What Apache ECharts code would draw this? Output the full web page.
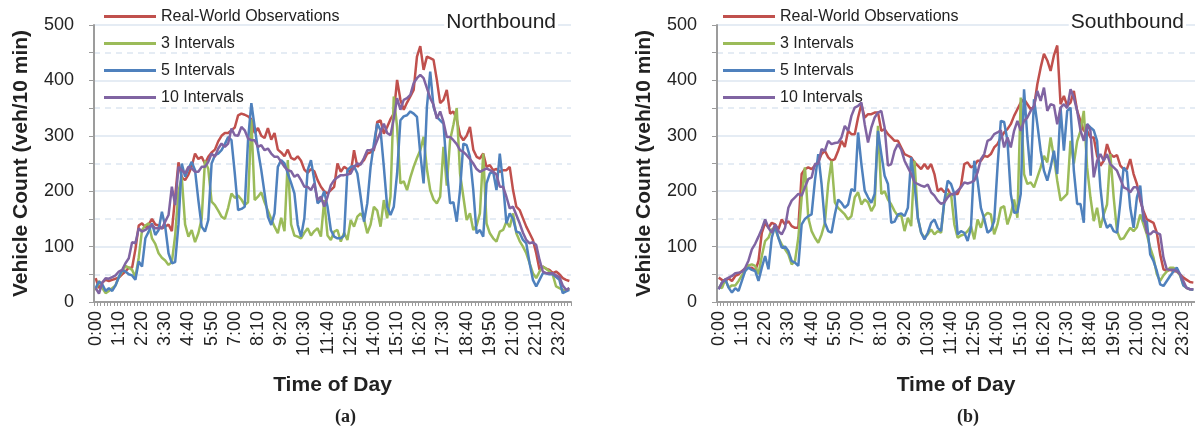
<!DOCTYPE html>
<html>
<head>
<meta charset="utf-8">
<script src="https://cdn.jsdelivr.net/npm/echarts@6/dist/echarts.min.js"></script>
<style>
html,body{margin:0;padding:0;background:#fff;}
#chart{width:1195px;height:431px;}
</style>
</head>
<body>
<div id="chart"></div>
<script>
// ---- DATA ----
const seriesNames = ['Real-World Observations', '3 Intervals', '5 Intervals', '10 Intervals'];
const panelTitles = ['Northbound', 'Southbound'];
const panelCaptions = ['(a)', '(b)'];
const yTicks = [0, 100, 200, 300, 400, 500];

// time-of-day categories, 10-minute steps
const times = [];
for (let i = 0; i < 144; i++) {
  const h = Math.floor(i / 6), m = (i % 6) * 10;
  times.push(h + ':' + (m < 10 ? '0' + m : m));
}

const nbReal = [43,25,35,40,38,40,42,44,50,55,62,62,95,138,142,135,140,150,140,138,
133,136,140,128,190,252,225,220,230,245,268,258,262,250,262,270,275,290,300,305,
305,310,315,337,340,338,335,330,305,314,300,296,314,293,305,275,270,263,275,260,
257,263,255,239,233,240,236,220,208,200,196,202,208,250,235,244,240,232,274,244,
250,256,268,270,274,325,328,304,316,330,340,401,365,347,360,371,383,443,462,419,
443,440,437,401,359,365,383,340,344,330,301,292,300,316,275,262,259,268,244,247,
238,240,235,238,238,244,202,172,166,151,136,124,112,88,58,64,60,58,52,55,
50,43,40,38];

const nb3 = [21,38,25,16,20,25,30,45,55,65,62,58,45,80,130,138,142,115,105,88,
80,75,67,72,120,200,225,140,118,130,108,124,150,255,240,181,175,165,154,150,
170,196,188,192,185,175,180,330,184,190,198,180,165,150,136,124,152,128,256,140,
120,118,115,125,133,120,128,133,118,184,120,112,127,130,109,125,112,148,136,154,
160,150,124,140,172,165,136,184,151,190,371,316,214,218,202,225,244,260,274,298,
240,202,185,178,190,280,210,292,320,350,232,190,148,160,130,138,160,268,142,124,
115,109,127,130,145,135,160,124,110,100,88,70,52,43,55,64,60,55,49,28,
25,22,20,25];

const nb5 = [25,37,32,20,25,20,30,45,58,55,50,48,40,73,64,115,127,142,121,130,
163,136,88,70,72,140,250,226,241,253,238,184,136,127,148,250,265,268,274,285,
298,292,232,166,168,172,292,359,316,274,238,196,154,139,160,244,256,250,232,215,
196,139,118,151,238,256,220,178,184,200,172,130,118,115,115,120,238,244,245,232,
190,145,178,244,286,322,310,244,172,157,172,232,328,335,337,344,340,334,268,214,
352,416,352,334,328,322,238,178,180,145,202,286,283,262,202,124,130,118,214,232,
235,202,268,214,142,160,150,127,125,112,106,70,40,28,40,52,52,50,50,45,
40,16,19,22];

const nb10 = [25,15,35,43,42,45,48,55,58,70,79,108,106,133,127,130,135,139,133,133,
133,145,157,208,175,244,238,232,244,241,235,235,244,244,253,268,262,277,286,280,
286,313,301,300,316,310,295,292,292,280,283,274,277,268,262,262,253,244,238,236,
226,230,220,208,208,202,214,184,190,172,190,211,220,225,229,229,230,232,244,250,
248,260,274,274,277,292,307,322,305,301,331,368,347,365,368,374,395,404,410,404,
386,368,356,331,344,325,298,298,292,285,274,271,265,258,250,240,235,238,241,238,
235,230,208,208,190,169,172,157,142,125,112,106,108,103,76,55,52,52,52,48,
45,30,22,25];

const sbReal = [44,40,38,43,38,47,50,56,60,62,62,56,74,125,143,134,143,140,131,149,
140,146,137,134,134,231,240,243,240,246,252,267,273,261,255,258,273,291,280,309,
303,303,333,357,333,339,339,342,342,309,312,303,297,291,291,279,267,264,261,252,
246,240,249,240,249,231,200,205,198,204,192,195,195,210,249,252,243,246,255,255,
264,262,267,279,285,297,306,312,321,336,348,360,366,357,348,352,393,423,448,436,
417,445,463,357,372,354,360,381,345,327,309,309,297,297,264,246,255,285,267,262,
265,246,240,240,258,231,213,183,164,149,146,143,125,86,59,56,58,56,55,50,
44,40,36,35];

const sb3 = [29,25,41,26,30,30,38,48,56,66,68,65,50,83,110,116,131,134,116,104,
95,86,68,74,116,189,243,152,128,116,107,122,143,213,255,180,170,164,158,149,
155,189,198,176,185,180,164,175,318,195,200,185,176,164,155,157,128,152,137,255,
152,125,116,122,131,122,128,125,183,195,195,140,116,120,122,128,137,113,149,134,
155,161,158,122,140,170,173,140,158,185,152,369,231,213,216,207,225,243,264,252,
297,261,219,183,189,195,291,250,290,309,345,243,189,146,170,134,158,176,267,189,
128,113,115,125,134,128,135,158,140,122,98,80,50,38,48,55,62,62,56,48,
30,25,23,22];

const sb5 = [23,35,41,26,17,25,20,38,56,62,58,56,38,62,83,59,116,137,116,98,
100,92,74,71,65,140,150,155,158,219,267,213,143,128,125,158,185,179,170,176,
204,200,306,249,201,189,179,195,309,267,228,213,143,145,158,160,155,170,261,213,
152,125,113,125,143,149,134,128,183,219,213,195,122,128,125,110,134,255,219,170,
150,125,130,146,243,327,325,291,195,161,162,195,384,297,228,366,321,273,237,219,
243,273,231,351,273,345,351,237,177,177,143,321,315,310,291,207,152,134,140,128,
125,180,243,235,170,134,189,210,146,145,86,74,56,32,29,38,47,55,62,50,
30,26,23,22];

const sb10 = [23,35,41,44,47,52,53,54,62,75,95,105,118,132,149,134,125,140,128,122,
134,170,183,189,195,192,207,222,225,249,250,276,273,291,285,287,288,297,318,309,
336,351,354,360,321,288,315,333,342,345,315,246,249,273,285,275,255,243,231,216,
213,210,208,212,198,192,183,177,180,189,195,195,201,207,216,214,216,219,234,258,
267,291,294,303,306,310,279,297,279,309,327,309,327,333,345,354,381,363,387,345,
357,355,321,351,357,350,384,369,345,310,291,321,309,225,255,267,255,267,249,243,
237,222,207,204,198,207,207,189,158,125,122,128,125,122,80,59,58,58,56,50,
38,25,23,23];

const panels = [
  [nbReal, nb3, nb5, nb10],
  [sbReal, sb3, sb5, sb10]
];

// ---- STYLE ----
const colors = ['#C0504D', '#9BBB59', '#4F81BD', '#8064A2'];
const FONT = '"Liberation Sans", Arial, Helvetica, sans-serif';
const TXT = '#222222';
const AXIS = '#9c9c9c';
const GRIDC = '#dde6f1';

const gridPos = [
  {left: 94, top: 25, width: 477, height: 277},
  {left: 717, top: 25, width: 478, height: 277}
];

const chart = echarts.init(document.getElementById('chart'), null, {renderer: 'canvas'});

const xAxis = [0, 1].map(k => ({
  gridIndex: k,
  type: 'category',
  data: times,
  boundaryGap: true,
  axisLine: {lineStyle: {color: AXIS, width: 2}},
  axisTick: {show: true, interval: 0, length: 4, lineStyle: {color: AXIS, width: 1}},
  axisLabel: {interval: 6, rotate: 90, fontSize: 18, color: TXT, fontFamily: FONT, margin: 9},
  splitLine: {show: false},
  name: 'Time of Day',
  nameLocation: 'middle',
  nameGap: 73,
  nameTextStyle: {fontSize: 21, fontWeight: 'bold', color: TXT, fontFamily: FONT}
}));

const yAxis = [0, 1].map(k => ({
  gridIndex: k,
  type: 'value',
  min: yTicks[0],
  max: yTicks[yTicks.length - 1],
  interval: 100,
  axisLine: {show: true, lineStyle: {color: AXIS, width: 2}},
  axisTick: {show: true, length: 5, lineStyle: {color: AXIS}},
  minorTick: {show: true, splitNumber: 2, length: 5, lineStyle: {color: AXIS}},
  splitLine: {show: true, lineStyle: {color: GRIDC, width: 1.5}},
  minorSplitLine: {show: true, lineStyle: {color: GRIDC, width: 1.5, type: [6, 5]}},
  axisLabel: {fontSize: 18, color: TXT, fontFamily: FONT, margin: 20},
  name: 'Vehicle Count (veh/10 min)',
  nameLocation: 'middle',
  nameGap: 62,
  nameTextStyle: {fontSize: 21, fontWeight: 'bold', color: TXT, fontFamily: FONT}
}));

const legend = [104, 723].map(lx => ({
  left: lx,
  top: 8,
  orient: 'vertical',
  padding: 0,
  itemWidth: 52,
  itemHeight: 3,
  itemGap: 10,
  icon: 'rect',
  selectedMode: false,
  textStyle: {fontSize: 16, color: TXT, fontFamily: FONT, lineHeight: 17},
  data: seriesNames
}));

const series = [];
panels.forEach((arrs, k) => {
  arrs.forEach((arr, s) => {
    series.push({
      name: seriesNames[s],
      type: 'line',
      xAxisIndex: k,
      yAxisIndex: k,
      data: arr,
      showSymbol: false,
      symbol: 'none',
      smooth: false,
      lineStyle: {color: colors[s], width: 2.5},
      itemStyle: {color: colors[s]},
      z: 2 + s
    });
  });
});

const graphic = [
  {type: 'text', right: 1195 - 558, top: 12, z: 100, style: {text: panelTitles[0], font: '21px ' + FONT, fill: TXT, backgroundColor: '#ffffff', padding: [0, 2]}},
  {type: 'text', right: 1195 - 1186, top: 12, z: 100, style: {text: panelTitles[1], font: '21px ' + FONT, fill: TXT, backgroundColor: '#ffffff', padding: [0, 2]}},
  {type: 'text', left: 335, top: 408, style: {text: panelCaptions[0], font: 'bold 18px "Liberation Serif", "Times New Roman", serif', fill: TXT, textAlign: 'center'}},
  {type: 'text', left: 957, top: 408, style: {text: panelCaptions[1], font: 'bold 18px "Liberation Serif", "Times New Roman", serif', fill: TXT, textAlign: 'center'}}
];

chart.setOption({
  animation: false,
  backgroundColor: '#ffffff',
  grid: gridPos,
  xAxis: xAxis,
  yAxis: yAxis,
  legend: legend,
  graphic: graphic,
  series: series
});
</script>
</body>
</html>
